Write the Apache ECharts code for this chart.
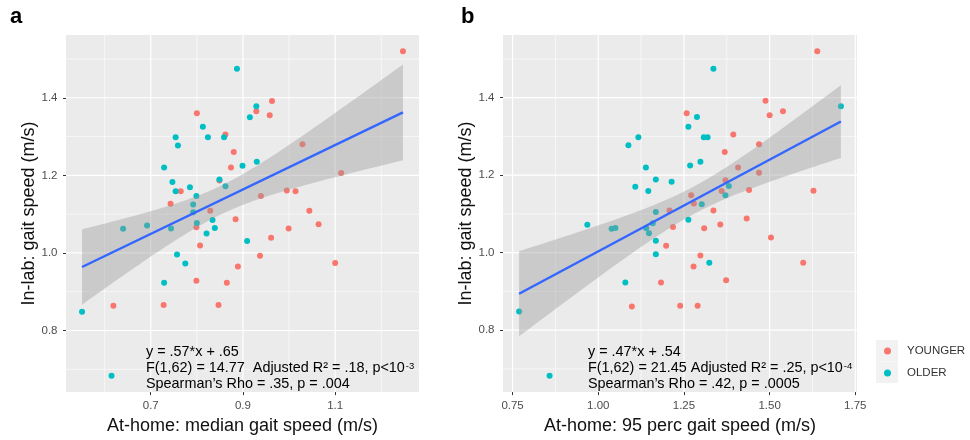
<!DOCTYPE html>
<html><head><meta charset="utf-8">
<script src="https://cdn.jsdelivr.net/npm/echarts@6/dist/echarts.min.js"></script>
<style>html,body{margin:0;padding:0;background:#fff}#c{width:970px;height:440px}</style>
</head><body><div id="c"></div>
<script>
// ---------- Panel a: at-home median gait speed vs in-lab gait speed ----------
const aYoungX = [0.963,0.929,0.958,0.800,0.862,1.029,0.880,0.874,1.113,0.849,0.765,0.743,0.829,0.939,0.995,1.014,1.044,1.064,0.799,0.884,0.807,0.961,0.999,0.937,0.889,1.100,0.799,0.865,0.619,0.728,0.847,1.247];
const aYoungY = [1.392,1.365,1.355,1.360,1.305,1.280,1.260,1.220,1.206,1.187,1.159,1.127,1.109,1.147,1.161,1.159,1.109,1.074,1.066,1.087,1.019,1.039,1.063,0.993,0.965,0.974,0.928,0.923,0.864,0.866,0.866,1.520];
const aOldX = [0.887,0.929,0.915,0.813,0.754,0.824,0.859,0.759,0.729,0.899,0.930,0.747,0.849,0.754,0.785,0.862,0.799,0.792,0.792,0.640,0.692,0.744,0.800,0.834,0.839,0.821,0.909,0.757,0.775,0.729,0.551,0.615];
const aOldY = [1.475,1.378,1.350,1.325,1.298,1.298,1.298,1.277,1.220,1.225,1.235,1.183,1.189,1.159,1.169,1.172,1.147,1.125,1.105,1.062,1.071,1.063,1.077,1.085,1.064,1.050,1.031,0.996,0.973,0.923,0.848,0.683];

// ---------- Panel b: at-home 95th percentile gait speed vs in-lab gait speed ----------
const bYoungX = [1.639,1.488,1.500,1.539,1.258,1.394,1.369,1.469,1.408,1.469,1.371,1.360,1.440,1.271,1.279,1.628,1.208,1.336,1.433,1.218,1.309,1.356,1.504,1.198,1.298,1.278,1.598,1.183,1.373,1.098,1.239,1.290];
const bYoungY = [1.520,1.392,1.355,1.365,1.360,1.305,1.260,1.280,1.220,1.206,1.187,1.159,1.162,1.148,1.127,1.160,1.109,1.109,1.088,1.066,1.063,1.073,1.039,1.018,0.993,0.964,0.974,0.923,0.929,0.861,0.863,0.863];
const bOldX = [1.336,1.288,1.263,1.117,1.088,1.308,1.319,1.139,1.268,1.298,1.168,1.214,1.108,1.146,1.381,1.371,1.302,1.168,1.263,0.968,1.039,1.050,1.159,1.140,1.148,1.168,1.168,1.324,1.079,0.769,0.858,1.708];
const bOldY = [1.475,1.350,1.325,1.298,1.277,1.298,1.298,1.220,1.225,1.235,1.189,1.183,1.170,1.159,1.172,1.148,1.125,1.105,1.085,1.072,1.062,1.064,1.076,1.063,1.050,1.031,0.996,0.974,0.923,0.848,0.682,1.378];

// ---------- ticks ----------
const yMajor = [0.8, 1.0, 1.2, 1.4];
const yMinor = [0.7, 0.9, 1.1, 1.3, 1.5];
const aXMajor = [0.7, 0.9, 1.1];
const aXMinor = [0.6, 0.8, 1.0, 1.2];
const bXMajor = [0.75, 1.00, 1.25, 1.50, 1.75];
const bXMinor = [0.875, 1.125, 1.375, 1.625];

const groupNames = ['YOUNGER', 'OLDER'];
const xTitles = ['At-home: median gait speed (m/s)', 'At-home: 95 perc gait speed (m/s)'];
const yTitle = 'In-lab: gait speed (m/s)';
const annA = ['y = .57*x + .65', 'F(1,62) = 14.77  Adjusted R\u00B2 = .18, p<10{sup|-3}', 'Spearman\u2019s Rho = .35, p = .004'];
const annB = ['y = .47*x + .54', 'F(1,62) = 21.45 Adjusted R\u00B2 = .25, p<10{sup|-4}', 'Spearman\u2019s Rho = .42, p = .0005'];

const COL_Y = '#F8766D', COL_O = '#00BFC4';
const FONT = '"Liberation Sans", Arial, Helvetica, sans-serif';
const T_CRIT = 1.999; // qt(0.975, 62)

function zip(xs, ys) { return xs.map((x, i) => [x, ys[i]]); }
function expand(arr) { const mn = Math.min(...arr), mx = Math.max(...arr), r = mx - mn; return [mn - 0.05 * r, mx + 0.05 * r]; }
function fitLine(xs, ys) {
  const n = xs.length;
  const xb = xs.reduce((s, v) => s + v, 0) / n, yb = ys.reduce((s, v) => s + v, 0) / n;
  let sxx = 0, sxy = 0;
  for (let i = 0; i < n; i++) { sxx += (xs[i] - xb) ** 2; sxy += (xs[i] - xb) * (ys[i] - yb); }
  const b = sxy / sxx, a = yb - b * xb;
  let sse = 0;
  for (let i = 0; i < n; i++) sse += (ys[i] - a - b * xs[i]) ** 2;
  return { n, a, b, xb, sxx, s: Math.sqrt(sse / (n - 2)), xmin: Math.min(...xs), xmax: Math.max(...xs) };
}
function bandOf(f) {
  const pts = [];
  for (let i = 0; i < 80; i++) {
    const x = f.xmin + i * (f.xmax - f.xmin) / 79;
    const yh = f.a + f.b * x;
    const se = f.s * Math.sqrt(1 / f.n + (x - f.xb) ** 2 / f.sxx);
    pts.push([x, yh - T_CRIT * se, yh + T_CRIT * se]);
  }
  return pts;
}

const panels = [
  { yx: aYoungX, yy: aYoungY, ox: aOldX, oy: aOldY, xMaj: aXMajor, xMin: aXMinor, dec: 1 },
  { yx: bYoungX, yy: bYoungY, ox: bOldX, oy: bOldY, xMaj: bXMajor, xMin: bXMinor, dec: 2 }
];
const grids = [
  { left: 66, top: 35, width: 353, height: 360, show: true, backgroundColor: '#EBEBEB', borderWidth: 0 },
  { left: 503, top: 35, width: 354, height: 360, show: true, backgroundColor: '#EBEBEB', borderWidth: 0 }
];

const xAxes = [], yAxes = [], series = [];
panels.forEach((p, gi) => {
  const allX = p.yx.concat(p.ox), allY = p.yy.concat(p.oy);
  const xr = expand(allX), yr = expand(allY);
  const xMid = (xr[0] + xr[1]) / 2, yMid = (yr[0] + yr[1]) / 2;
  xAxes.push({
    type: 'value', gridIndex: gi, min: xr[0], max: xr[1],
    axisLine: { show: false },
    axisTick: { show: true, length: 3, lineStyle: { color: '#333', width: 1 }, customValues: p.xMaj },
    axisLabel: { customValues: p.xMaj, formatter: v => Number(v).toFixed(p.dec), color: '#4D4D4D', fontSize: 11.5, margin: 8, fontFamily: FONT },
    splitLine: { show: false },
    name: xTitles[gi], nameLocation: 'middle', nameGap: 21,
    nameTextStyle: { fontSize: 18, color: '#111', fontFamily: FONT }
  });
  yAxes.push({
    type: 'value', gridIndex: gi, min: yr[0], max: yr[1],
    axisLine: { show: false },
    axisTick: { show: true, length: 3, lineStyle: { color: '#333', width: 1 }, customValues: yMajor },
    axisLabel: { customValues: yMajor, formatter: v => Number(v).toFixed(1), color: '#4D4D4D', fontSize: 11.5, margin: 8.5, fontFamily: FONT },
    splitLine: { show: false },
    name: yTitle, nameLocation: 'middle', nameGap: 27, nameRotate: 90,
    nameTextStyle: { fontSize: 18, color: '#111', fontFamily: FONT }
  });

  // vertical grid lines
  const vData = p.xMaj.map(v => [v, yMid, 1]).concat(p.xMin.map(v => [v, yMid, 0]));
  series.push({
    type: 'custom', xAxisIndex: gi, yAxisIndex: gi, z: 1, silent: true, data: vData,
    encode: { x: 0, y: 1 },
    renderItem: (params, api) => {
      const cs = params.coordSys; const pt = api.coord([api.value(0), api.value(1)]);
      return { type: 'line', shape: { x1: pt[0], y1: cs.y, x2: pt[0], y2: cs.y + cs.height },
        style: { stroke: '#FFFFFF', lineWidth: api.value(2) ? 1.2 : 0.6 }, silent: true };
    }
  });
  // horizontal grid lines
  const hData = yMajor.map(v => [xMid, v, 1]).concat(yMinor.map(v => [xMid, v, 0]));
  series.push({
    type: 'custom', xAxisIndex: gi, yAxisIndex: gi, z: 1, silent: true, data: hData,
    encode: { x: 0, y: 1 },
    renderItem: (params, api) => {
      const cs = params.coordSys; const pt = api.coord([api.value(0), api.value(1)]);
      return { type: 'line', shape: { x1: cs.x, y1: pt[1], x2: cs.x + cs.width, y2: pt[1] },
        style: { stroke: '#FFFFFF', lineWidth: api.value(2) ? 1.2 : 0.6 }, silent: true };
    }
  });

  // points
  series.push({ type: 'scatter', name: groupNames[0], xAxisIndex: gi, yAxisIndex: gi, z: 3, symbolSize: 6,
    itemStyle: { color: COL_Y, opacity: 1 }, data: zip(p.yx, p.yy) });
  series.push({ type: 'scatter', name: groupNames[1], xAxisIndex: gi, yAxisIndex: gi, z: 3, symbolSize: 6,
    itemStyle: { color: COL_O, opacity: 1 }, data: zip(p.ox, p.oy) });

  // regression + confidence band (geom_smooth, method = lm)
  const f = fitLine(allX, allY);
  const band = bandOf(f);
  series.push({
    type: 'custom', xAxisIndex: gi, yAxisIndex: gi, z: 4, silent: true, data: band,
    encode: { x: 0, y: [1, 2] },
    renderItem: (params, api) => {
      if (params.dataIndex !== 0) return null;
      const upper = band.map(d => api.coord([d[0], d[2]]));
      const lower = band.map(d => api.coord([d[0], d[1]])).reverse();
      return { type: 'polygon', shape: { points: upper.concat(lower) }, style: { fill: 'rgba(153,153,153,0.4)' }, silent: true };
    }
  });
  series.push({
    type: 'line', xAxisIndex: gi, yAxisIndex: gi, z: 5, silent: true, symbol: 'none',
    lineStyle: { color: '#3366FF', width: 2.4 },
    data: [[f.xmin, f.a + f.b * f.xmin], [f.xmax, f.a + f.b * f.xmax]]
  });
});

function annText(lines, x) {
  return lines.map((t, i) => ({
    type: 'text', x: x, y: 352.5 + i * 16, z: 10, silent: true,
    style: {
      text: t, fill: '#000', font: '14.4px ' + FONT,
      align: 'left', verticalAlign: 'middle', textAlign: 'left', textVerticalAlign: 'middle',
      rich: { sup: { fontSize: 9.5, fontFamily: FONT, fill: '#000', verticalAlign: 'top', padding: [0, 0, 0, 1] } }
    }
  }));
}

const graphics = [
  { type: 'text', x: 10, y: 17, z: 10, silent: true, style: { text: 'a', fill: '#000', font: 'bold 22px ' + FONT, align: 'left', verticalAlign: 'middle', textAlign: 'left', textVerticalAlign: 'middle' } },
  { type: 'text', x: 461, y: 17, z: 10, silent: true, style: { text: 'b', fill: '#000', font: 'bold 22px ' + FONT, align: 'left', verticalAlign: 'middle', textAlign: 'left', textVerticalAlign: 'middle' } },
  { type: 'rect', shape: { x: 876, y: 340, width: 22, height: 21.5 }, style: { fill: '#F2F2F2' }, z: 0, silent: true },
  { type: 'rect', shape: { x: 876, y: 361.5, width: 22, height: 21.5 }, style: { fill: '#F2F2F2' }, z: 0, silent: true }
].concat(annText(annA, 146), annText(annB, 588));

const chart = echarts.init(document.getElementById('c'), null, { renderer: 'canvas' });
chart.setOption({
  animation: false,
  backgroundColor: '#FFFFFF',
  grid: grids,
  xAxis: xAxes,
  yAxis: yAxes,
  legend: {
    data: groupNames.map(n => ({ name: n, icon: 'circle' })),
    orient: 'vertical', left: 884, top: 344, padding: 0, itemWidth: 7, itemHeight: 7, itemGap: 8,
    selectedMode: false, z: 5,
    textStyle: { fontSize: 11.5, color: '#333', fontFamily: FONT, lineHeight: 14, padding: [0, 0, 0, 11] }
  },
  graphic: graphics,
  series: series
});
</script></body></html>
